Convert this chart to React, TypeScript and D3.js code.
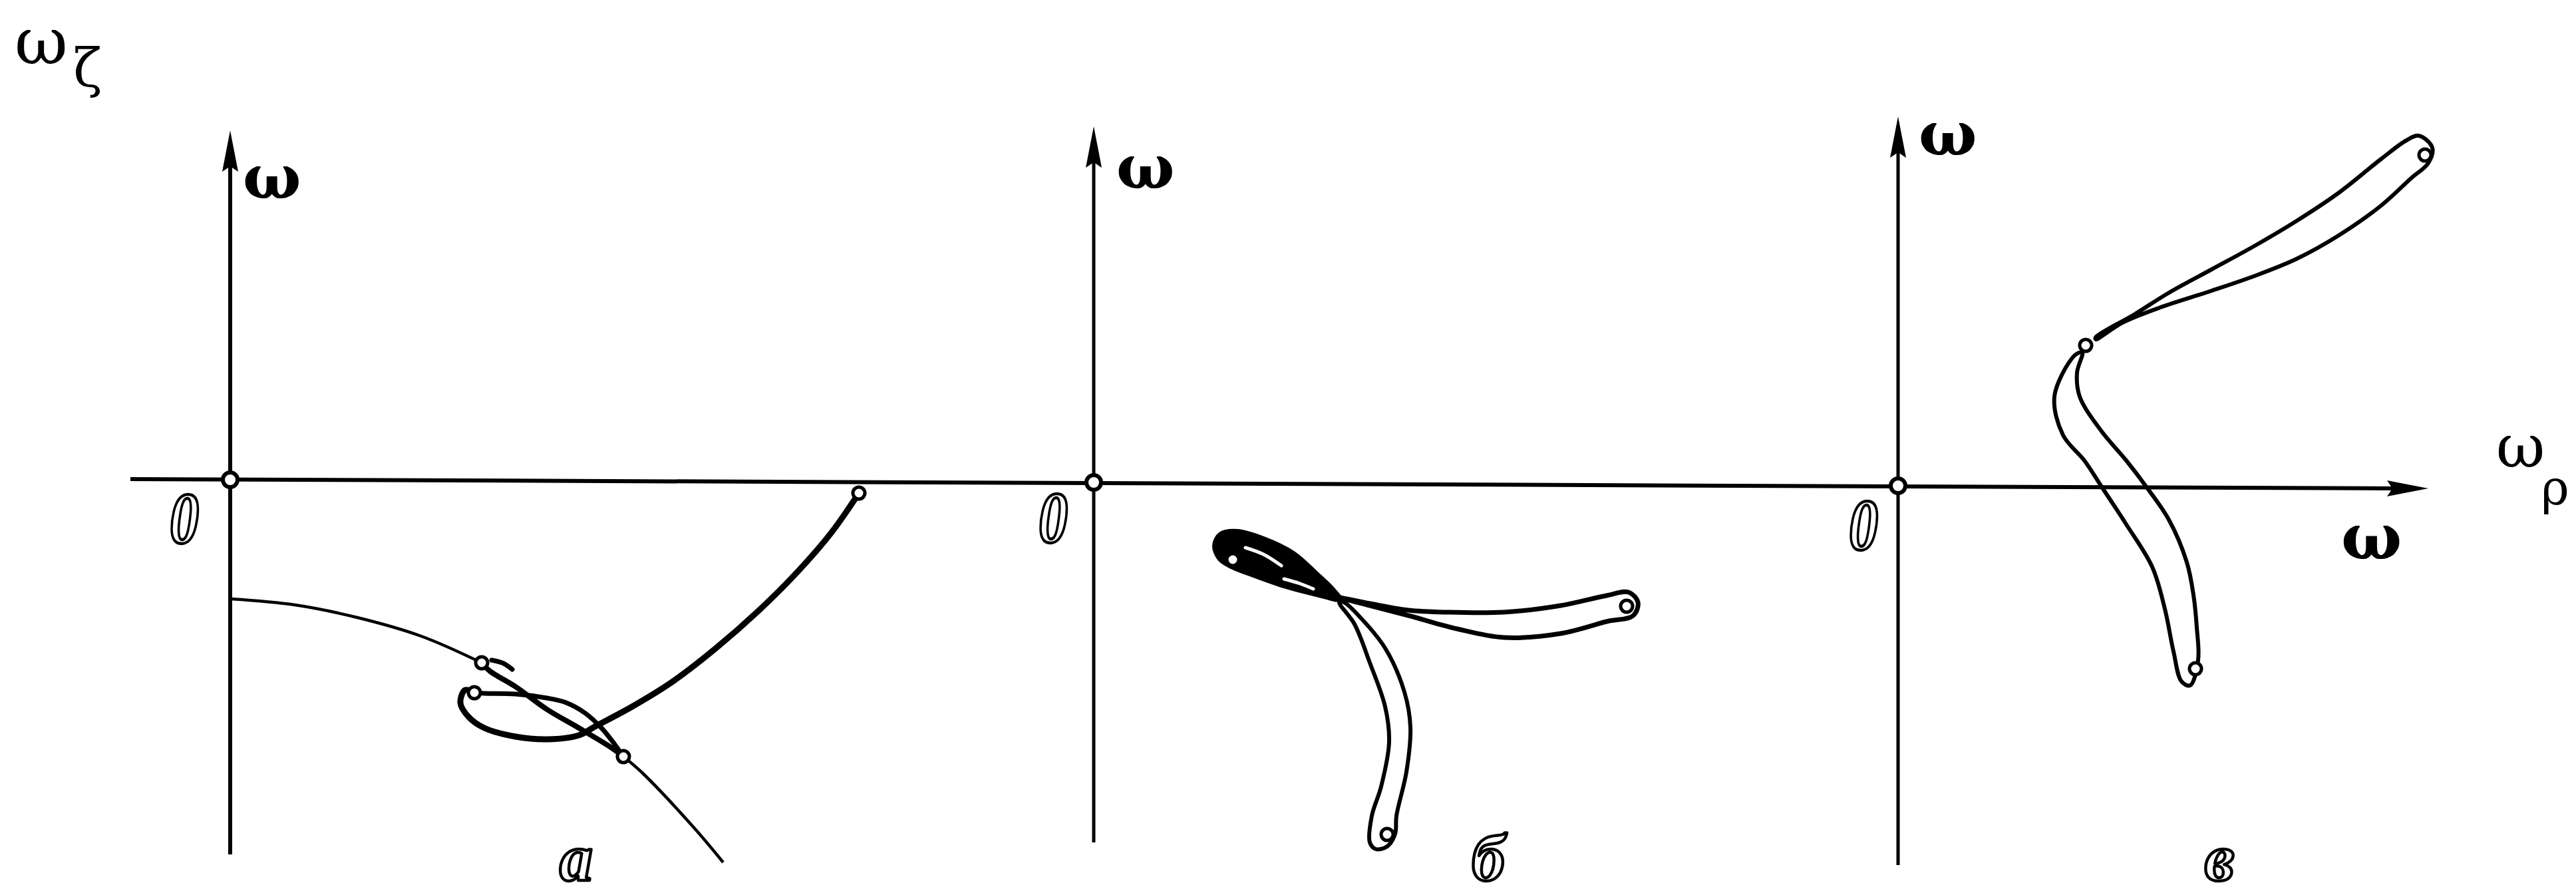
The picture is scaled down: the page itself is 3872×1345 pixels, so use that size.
import React from "react";
import * as d3 from "d3";

type Pt = [number, number];

// ---- Panel а : trajectories in the (ωρ, ωζ) plane ----
const aArcUpper: Pt[] = [[0.01, -1.79], [0.97, -1.88], [1.91, -2.07], [2.87, -2.35], [3.78, -2.75]];
const aArcBand: Pt[] = [[3.78, -2.75], [3.91, -2.88], [4.29, -3.11], [4.76, -3.45], [5.24, -3.73], [5.72, -4.02], [5.91, -4.16]];
const aArcLower: Pt[] = [[5.91, -4.16], [6.19, -4.4], [6.99, -5.25], [7.41, -5.75]];
const aHook: Pt[] = [[3.93, -2.71], [4.11, -2.76], [4.24, -2.85]];
const aMain: Pt[] = [
  [9.45, -0.2], [9.04, -0.79], [8.54, -1.37], [7.94, -1.97], [7.29, -2.54], [6.64, -3.04],
  [6.04, -3.41], [5.48, -3.71], [5.24, -3.84], [4.77, -3.9], [4.29, -3.86], [3.82, -3.73],
  [3.58, -3.56], [3.46, -3.35], [3.53, -3.16], [3.67, -3.2],
];
const aLoopTop: Pt[] = [[3.67, -3.2], [3.82, -3.21], [4.29, -3.22], [4.76, -3.28], [5.05, -3.35], [5.34, -3.51], [5.59, -3.74], [5.79, -3.99], [5.91, -4.16]];
const aMarks: Pt[] = [[9.45, -0.2], [3.78, -2.75], [3.67, -3.2], [5.91, -4.16]];

// ---- Panel б ----
const bLeft: Pt[] = [
  [3.69, -1.75], [3.58, -1.6], [3.35, -1.38], [3.0, -1.07], [2.55, -0.85], [2.16, -0.74],
  [1.91, -0.78], [1.82, -0.95], [1.9, -1.15], [2.09, -1.27], [2.43, -1.4], [2.89, -1.56], [3.35, -1.68],
];
const bLeftGaps: Pt[][] = [
  [[2.28, -0.98], [2.55, -1.08], [2.82, -1.25]],
  [[2.86, -1.45], [3.1, -1.52], [3.3, -1.6]],
];
const bRight: Pt[] = [
  [3.69, -1.73], [4.15, -1.82], [4.73, -1.92], [5.3, -1.95], [6.16, -1.95], [7.02, -1.85], [7.71, -1.7],
  [8.04, -1.65], [8.18, -1.8], [8.11, -2.0], [7.71, -2.09], [7.02, -2.27], [6.16, -2.33], [5.46, -2.2],
  [4.73, -2.0], [4.15, -1.85],
];
const bDown: Pt[] = [
  [3.69, -1.8], [3.92, -2.13], [4.15, -2.71], [4.38, -3.37], [4.44, -3.9], [4.32, -4.57], [4.18, -5.01],
  [4.15, -5.41], [4.24, -5.51], [4.41, -5.47], [4.53, -5.28], [4.55, -5.01], [4.7, -4.35], [4.76, -3.68],
  [4.67, -3.15], [4.38, -2.49], [3.98, -2.0], [3.76, -1.8],
];
const bMarks: Pt[] = [[2.09, -1.16], [8.01, -1.86], [4.41, -5.29]];

// ---- Panel в ----
const vUpper: Pt[] = [
  [2.97, 2.23], [3.56, 2.58], [4.07, 2.9], [4.71, 3.25], [5.35, 3.6], [5.99, 3.98], [6.62, 4.4],
  [7.26, 4.91], [7.64, 5.19], [7.83, 5.26], [8.03, 5.08], [7.97, 4.85], [7.71, 4.62], [7.26, 4.21],
  [6.62, 3.76], [5.99, 3.41], [5.35, 3.15], [4.71, 2.93], [3.94, 2.68], [3.37, 2.45], [2.97, 2.2],
];
const vLower: Pt[] = [
  [2.72, 2.0], [2.61, 1.91], [2.35, 1.34], [2.48, 0.76], [2.8, 0.38], [3.05, 0.0], [3.43, -0.58],
  [3.82, -1.22], [4.01, -1.85], [4.14, -2.49], [4.26, -2.94], [4.39, -3.0], [4.51, -2.62], [4.49, -2.13],
  [4.44, -1.64], [4.34, -1.15], [4.07, -0.51], [3.72, 0.0], [3.43, 0.38], [3.05, 0.83], [2.73, 1.34],
  [2.69, 1.7], [2.77, 2.0],
];
const vMarks: Pt[] = [[2.82, 2.11], [7.92, 4.97], [4.47, -2.75]];

// labels
const panelLetters = ["а", "б", "в"];
const axisSymbol = "ω";

const W = 3872;
const H = 1345;

// axis line (slightly skewed in the printed figure)
const axisStart: Pt = [196, 720];
const axisEnd: Pt = [3650, 734];

const panels = [
  { ox: 346, oy: 721, top: 196, bottom: 1284, wLabel: [365, 298], zero: [277, 816], letter: [866, 1323] },
  { ox: 1644, oy: 725, top: 190, bottom: 1266, wLabel: [1678, 283], zero: [1583, 815], letter: [2237, 1323] },
  { ox: 2853, oy: 730, top: 175, bottom: 1300, wLabel: [2884, 233], zero: [2801, 826], letter: [3336, 1323] },
];

const ink = "#000";

function scalesFor(ox: number, oy: number) {
  const x = d3.scaleLinear().domain([0, 1]).range([ox, ox + 100]);
  const y = d3.scaleLinear().domain([0, 1]).range([oy, oy - 100]);
  return { x, y };
}

function OpenCircle({ cx, cy, r = 9, sw = 5 }: { cx: number; cy: number; r?: number; sw?: number }) {
  return <circle cx={cx} cy={cy} r={r} fill="#fff" stroke={ink} strokeWidth={sw} />;
}

function Outlined({ x, y, text, size, sx = 1 }: { x: number; y: number; text: string; size: number; sx?: number }) {
  return (
    <text
      transform={`translate(${x},${y}) scale(${sx},1)`}
      textAnchor="middle"
      fontFamily="Liberation Serif"
      fontStyle="italic"
      fontWeight="bold"
      fontSize={size}
      fill="#fff"
      stroke={ink}
      strokeWidth={4.5}
      strokeLinejoin="round"
    >
      {text}
    </text>
  );
}

export default function App() {
  const curves: React.ReactNode[] = [];

  // Panel а
  {
    const p = panels[0];
    const { x, y } = scalesFor(p.ox, p.oy);
    const line = d3.line<Pt>().x((d) => x(d[0])).y((d) => y(d[1])).curve(d3.curveCatmullRom.alpha(0.5));
    curves.push(<path key="aArcU" d={line(aArcUpper)!} fill="none" stroke={ink} strokeWidth={4.5} />);
    curves.push(<path key="aArcL" d={line(aArcLower)!} fill="none" stroke={ink} strokeWidth={4.5} />);
    curves.push(<path key="aBand" d={line(aArcBand)!} fill="none" stroke={ink} strokeWidth={8} />);
    curves.push(<path key="aHook" d={line(aHook)!} fill="none" stroke={ink} strokeWidth={7} strokeLinecap="round" />);
    curves.push(<path key="aMain" d={line(aMain)!} fill="none" stroke={ink} strokeWidth={9} />);
    curves.push(<path key="aTop" d={line(aLoopTop)!} fill="none" stroke={ink} strokeWidth={7} />);
    aMarks.forEach((m, i) => curves.push(<OpenCircle key={`am${i}`} cx={x(m[0])} cy={y(m[1])} />));
  }

  // Panel б
  {
    const p = panels[1];
    const { x, y } = scalesFor(p.ox, p.oy);
    const closed = d3.line<Pt>().x((d) => x(d[0])).y((d) => y(d[1])).curve(d3.curveCatmullRomClosed.alpha(0.5));
    const open = d3.line<Pt>().x((d) => x(d[0])).y((d) => y(d[1])).curve(d3.curveCatmullRom.alpha(0.5));
    curves.push(<path key="bL" d={closed(bLeft)!} fill={ink} stroke={ink} strokeWidth={8} strokeLinejoin="round" />);
    bLeftGaps.forEach((g, i) =>
      curves.push(<path key={`bg${i}`} d={open(g)!} fill="none" stroke="#fff" strokeWidth={5} strokeLinecap="round" />)
    );
    curves.push(<path key="bR" d={closed(bRight)!} fill="none" stroke={ink} strokeWidth={7} strokeLinejoin="round" />);
    curves.push(<path key="bD" d={closed(bDown)!} fill="none" stroke={ink} strokeWidth={6} strokeLinejoin="round" />);
    bMarks.forEach((m, i) => curves.push(<OpenCircle key={`bm${i}`} cx={x(m[0])} cy={y(m[1])} />));
  }

  // Panel в
  {
    const p = panels[2];
    const { x, y } = scalesFor(p.ox, p.oy);
    const closed = d3.line<Pt>().x((d) => x(d[0])).y((d) => y(d[1])).curve(d3.curveCatmullRomClosed.alpha(0.5));
    curves.push(<path key="vU" d={closed(vUpper)!} fill="none" stroke={ink} strokeWidth={6} strokeLinejoin="round" />);
    curves.push(<path key="vL" d={closed(vLower)!} fill="none" stroke={ink} strokeWidth={6} strokeLinejoin="round" />);
    vMarks.forEach((m, i) => curves.push(<OpenCircle key={`vm${i}`} cx={x(m[0])} cy={y(m[1])} />));
  }

  const vArrow = (tx: number, ty: number) =>
    `M${tx},${ty} L${tx - 12},${ty + 62} L${tx},${ty + 54} L${tx + 12},${ty + 62} Z`;
  const [hx, hy] = axisEnd;
  const hArrow = `M${hx},${hy} L${hx - 62},${hy - 12} L${hx - 54},${hy} L${hx - 62},${hy + 12} Z`;

  return (
    <svg
      width={W}
      height={H}
      viewBox={`0 0 ${W} ${H}`}
      style={{ position: "absolute", left: 0, top: 0, display: "block", background: "#fff" }}
    >
      <rect width={W} height={H} fill="#fff" />

      {/* horizontal axis ωρ */}
      <line x1={axisStart[0]} y1={axisStart[1]} x2={hx - 50} y2={hy} stroke={ink} strokeWidth={6} />
      <path d={hArrow} fill={ink} />

      {/* vertical axes */}
      {panels.map((p, i) => (
        <g key={`ax${i}`}>
          <line x1={p.ox} y1={p.top + 50} x2={p.ox} y2={p.bottom} stroke={ink} strokeWidth={i === 0 ? 6 : 5} />
          <path d={vArrow(p.ox, p.top)} fill={ink} />
        </g>
      ))}

      {curves}

      {/* origins */}
      {panels.map((p, i) => (
        <OpenCircle key={`o${i}`} cx={p.ox} cy={p.oy} r={11} sw={6} />
      ))}

      {/* axis labels */}
      {panels.map((p, i) => (
        <text key={`wl${i}`} x={p.wLabel[0]} y={p.wLabel[1]} fontFamily="DejaVu Serif" fontWeight="bold" fontSize={92} fill={ink}>
          {axisSymbol}
        </text>
      ))}
      <text x={3519} y={840} fontFamily="DejaVu Serif" fontWeight="bold" fontSize={96} fill={ink}>
        {axisSymbol}
      </text>

      {/* ωζ and ωρ */}
      <text x={22} y={96} fontFamily="DejaVu Serif" fontSize={98} fill={ink}>
        ω<tspan dx={8} dy={34} fontSize={80}>ζ</tspan>
      </text>
      <text x={3752} y={702} fontFamily="DejaVu Serif" fontSize={90} fill={ink}>
        ω<tspan dx={-6} dy={56} fontSize={72}>ρ</tspan>
      </text>

      {/* zeros and panel letters */}
      {panels.map((p, i) => (
        <Outlined key={`z${i}`} x={p.zero[0]} y={p.zero[1]} text="0" size={110} sx={0.8} />
      ))}
      {panels.map((p, i) => (
        <Outlined key={`l${i}`} x={p.letter[0]} y={p.letter[1]} text={panelLetters[i]} size={100} />
      ))}
    </svg>
  );
}
